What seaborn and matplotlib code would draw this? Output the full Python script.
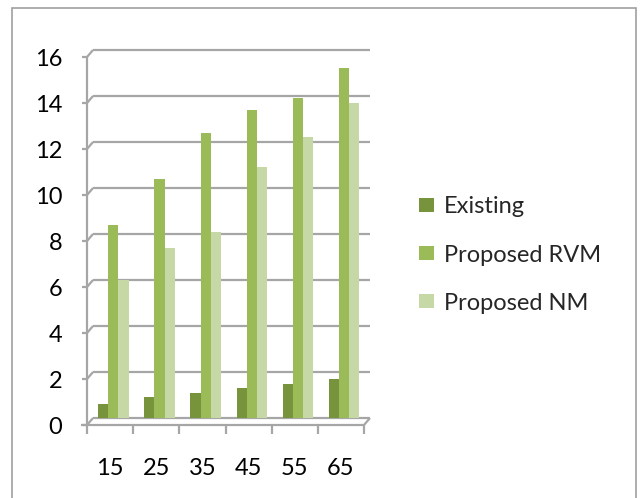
import numpy as np
import pandas as pd
import matplotlib
matplotlib.use("Agg")
import matplotlib.pyplot as plt
from matplotlib.patches import Rectangle
from matplotlib.transforms import ScaledTranslation
import seaborn as sns

# ---- data ----
categories = ["15", "25", "35", "45", "55", "65"]
existing = [0.6, 0.9, 1.1, 1.3, 1.5, 1.7]
proposed_rvm = [8.4, 10.4, 12.4, 13.4, 13.9, 15.2]
proposed_nm = [6.0, 7.4, 8.1, 10.9, 12.2, 13.7]
series_names = ["Existing", "Proposed RVM", "Proposed NM"]
y_ticks = list(range(0, 17, 2))

df = pd.DataFrame({
    "size": categories * 3,
    "value": existing + proposed_rvm + proposed_nm,
    "series": [series_names[0]] * 6 + [series_names[1]] * 6 + [series_names[2]] * 6,
})

palette = {"Existing": "#77933c", "Proposed RVM": "#9bbb59", "Proposed NM": "#c6d8a6"}

sns.set_theme(style="white")
plt.rcParams["font.family"] = ["Lato", "DejaVu Sans"]

DPI = 100
W, H = 640, 498
FS = 17
fig = plt.figure(figsize=(W / DPI, H / DPI), dpi=DPI)
fig.patch.set_facecolor("white")

# back wall of the plot area in pixels
left_px, right_px, top_px, bottom_px = 93, 370, 50, 418
ax = fig.add_axes([left_px / W, 1 - bottom_px / H,
                   (right_px - left_px) / W, (bottom_px - top_px) / H])
ax.set_facecolor("none")

sns.barplot(data=df, x="size", y="value", hue="series", palette=palette,
            width=0.66, dodge=True, ax=ax, legend=False, saturation=1,
            linewidth=0)

x0, x1 = -0.44, 5.56
ax.set_xlim(x0, x1)
ax.set_ylim(0, 16)
for s in ax.spines.values():
    s.set_visible(False)

# offsets of the front edge (depth) in data units
px_x = (right_px - left_px) / (x1 - x0)
px_y = (bottom_px - top_px) / 16
dx = -6 / px_x
dy = -7 / px_y

grid_kw = dict(color="#a6a6a6", lw=1.6, clip_on=False, zorder=0.5,
               solid_capstyle="butt")
fx = x0 + dx
for v in y_ticks:
    ax.plot([x0, x1], [v, v], **grid_kw)
    ax.plot([fx, x0], [v + dy, v], **grid_kw)
    ax.plot([fx - 5 / px_x, fx], [v + dy, v + dy], **grid_kw)

# front left edge and floor
ax.plot([fx, fx], [dy, 16 + dy], **grid_kw)
ax.plot([fx - 6 / px_x, x1 + dx, x1], [dy, dy, 0], **grid_kw)
for k in range(7):
    bx = x0 + k + dx
    ax.plot([bx, bx], [dy, dy - 9 / px_y], **grid_kw)

# tick labels
ax.set_yticks(y_ticks)
ax.set_yticklabels([str(v) for v in y_ticks])
ax.tick_params(axis="y", length=0, pad=22, labelsize=FS, labelcolor="black")
for lab in ax.get_yticklabels():
    lab.set_transform(lab.get_transform() + ScaledTranslation(0, -7 / DPI, fig.dpi_scale_trans))

ax.set_xticks(np.arange(len(categories)) + (x0 + 0.5 + dx))
ax.set_xticklabels(categories)
ax.tick_params(axis="x", length=0, pad=29, labelsize=FS, labelcolor="black")
ax.set_xlabel("")
ax.set_ylabel("")

# legend
handles = [Rectangle((0, 0), 1, 1, facecolor=palette[n], edgecolor="none") for n in series_names]
fig.legend(handles, series_names, loc="center left",
           bbox_to_anchor=(419 / W, 1 - 255 / H), frameon=False,
           fontsize=FS, handlelength=0.62, handleheight=0.55,
           handletextpad=0.45, labelspacing=1.15, borderpad=0, borderaxespad=0)

# chart border
fig.add_artist(Rectangle((12 / W, -0.01), (636 - 12) / W, 1 - 8 / H + 0.01,
                         transform=fig.transFigure, fill=False,
                         edgecolor="#a0a0a0", lw=1.2))

fig.savefig("out.png", dpi=DPI)
